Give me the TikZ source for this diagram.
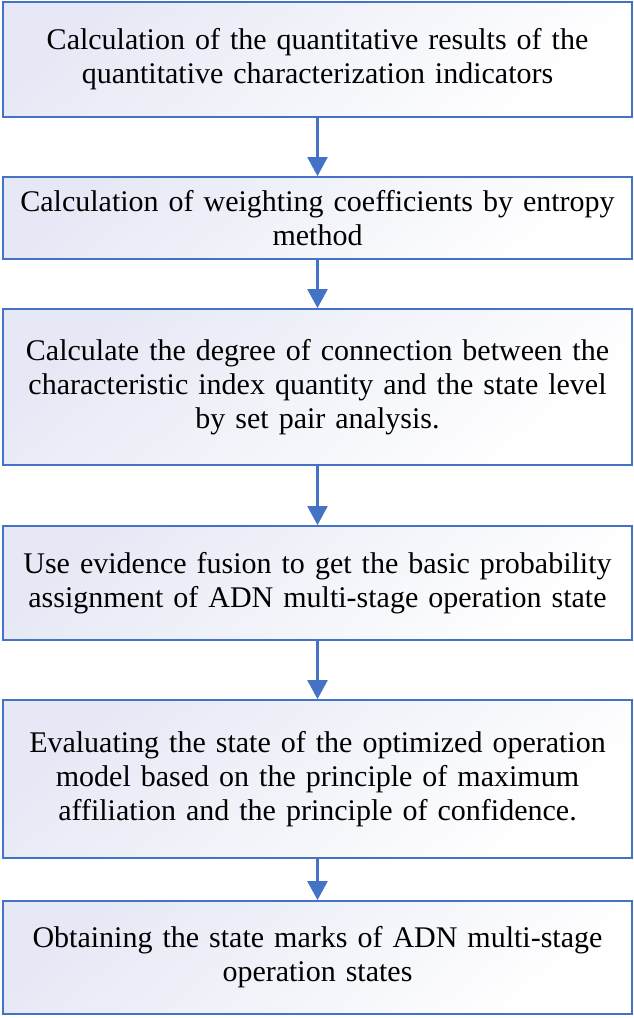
\documentclass[tikz,border=0pt]{standalone}
\usepackage{fontspec}
\setmainfont{Liberation Serif}
\usetikzlibrary{arrows.meta}
\definecolor{boxblue}{RGB}{68,114,196}
\definecolor{fillA}{RGB}{230,233,245}
\tikzset{
  stepbox/.style={draw=boxblue, line width=1.8pt, minimum width=629pt, inner sep=0pt,
    text width=620pt, align=center, top color=fillA, bottom color=white, shading angle=40,
    font=\fontsize{30pt}{34pt}\selectfont, text=black},
  arr/.style={draw=boxblue, line width=2.3pt, -{Triangle[width=20pt,length=19pt]}}
}
\begin{document}
\begin{tikzpicture}[x=1pt,y=1pt]
\useasboundingbox (0,0) rectangle (634,-1018);
\node[stepbox, minimum height=115pt] (b1) at (317.5,-59.5)
  {Calculation of the quantitative results of the\\ quantitative characterization indicators};
\node[stepbox, minimum height=82pt] (b2) at (317.5,-218)
  {Calculation of weighting coefficients by entropy\\ method};
\node[stepbox, minimum height=156pt] (b3) at (317.5,-387)
  {Calculate the degree of connection between the\\ characteristic index quantity and the state level\\ by set pair analysis.};
\node[stepbox, minimum height=114pt] (b4) at (317.5,-583)
  {Use evidence fusion to get the basic probability\\ assignment of ADN multi-stage operation state};
\node[stepbox, minimum height=158pt] (b5) at (317.5,-779)
  {Evaluating the state of the optimized operation\\ model based on the principle of maximum\\ affiliation and the principle of confidence.};
\node[stepbox, minimum height=113pt] (b6) at (317.5,-957.5)
  {Obtaining the state marks of ADN multi-stage\\ operation states};
\draw[arr] (b1.south) -- (b2.north);
\draw[arr] (b2.south) -- (b3.north);
\draw[arr] (b3.south) -- (b4.north);
\draw[arr] (b4.south) -- (b5.north);
\draw[arr] (b5.south) -- (b6.north);
\end{tikzpicture}
\end{document}
